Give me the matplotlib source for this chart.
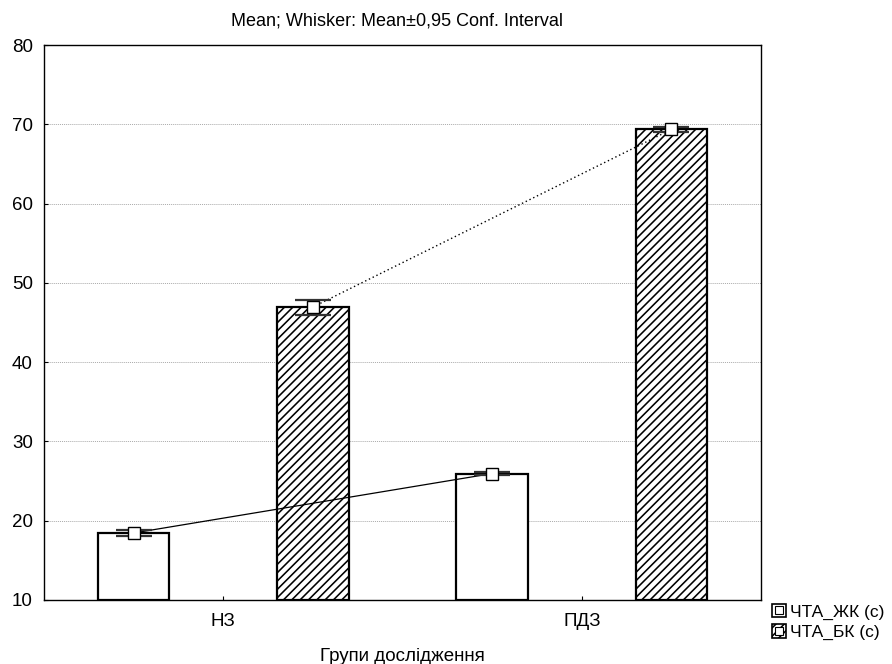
import matplotlib
matplotlib.use("Agg")
import matplotlib.pyplot as plt
import numpy as np
from matplotlib.patches import Patch
from matplotlib.lines import Line2D

plt.rcParams['font.family'] = ['Liberation Sans', 'DejaVu Sans']
plt.rcParams['hatch.linewidth'] = 1.15

groups = ["НЗ", "ПДЗ"]
series_names = ["ЧТА_ЖК (с)", "ЧТА_БК (с)"]
means_zhk = [18.45, 25.95]
ci_zhk = [0.4, 0.2]
means_bk = [46.95, 69.35]
ci_bk = [0.95, 0.3]

x = np.arange(len(groups))
width = 0.2
offset = 0.25

fig = plt.figure(figsize=(8.92, 6.64), dpi=100)
ax = fig.add_axes([44/892, 1 - 600/664, (761 - 44)/892, (600 - 45)/664])

ax.bar(x - offset, [m - 10 for m in means_zhk], width, bottom=10,
       facecolor="white", edgecolor="black", linewidth=1.6, zorder=2)
ax.bar(x + offset, [m - 10 for m in means_bk], width, bottom=10,
       facecolor="white", edgecolor="black", linewidth=1.6, hatch="////", zorder=2)

# connecting lines through the means
ax.plot(x - offset, means_zhk, color="black", linewidth=0.9, linestyle="-", zorder=3)
ax.plot(x + offset, means_bk, color="black", linewidth=1.0, linestyle=(0, (1, 2)), zorder=3)

for xs, ms, cs in [(x - offset, means_zhk, ci_zhk), (x + offset, means_bk, ci_bk)]:
    ax.errorbar(xs, ms, yerr=cs, fmt="none", ecolor="#333333", elinewidth=1.0,
                capsize=13, capthick=1.6, zorder=4)
    ax.plot(xs, ms, linestyle="none", marker="s", markersize=8,
            markerfacecolor="white", markeredgecolor="black", markeredgewidth=1.0, zorder=5)

ax.set_xlim(-0.5, 1.5)
ax.set_ylim(10, 80)
ax.set_yticks(np.arange(10, 81, 10))
ax.set_xticks(x)
ax.set_xticklabels(groups)
ax.tick_params(direction="in", length=3, labelsize=13.5, width=0.8)
ax.tick_params(axis="x", pad=9)
ax.tick_params(axis="y", pad=8)
ax.grid(axis="y", color="#aaaaaa", linestyle=(0, (1, 1)), linewidth=0.7, zorder=0)
ax.set_axisbelow(True)
for s in ax.spines.values():
    s.set_linewidth(1.0)

ax.set_title("Mean; Whisker: Mean±0,95 Conf. Interval", fontsize=13, pad=14, x=0.492)
ax.set_xlabel("Групи дослідження", fontsize=13.5, labelpad=13)

handles = [
    (Patch(facecolor="white", edgecolor="black", linewidth=1.2),
     Line2D([], [], marker="s", linestyle="none", markersize=6,
            markerfacecolor="white", markeredgecolor="black", markeredgewidth=0.8)),
    (Patch(facecolor="white", edgecolor="black", linewidth=1.2, hatch="////"),
     Line2D([], [], marker="s", linestyle="none", markersize=6,
            markerfacecolor="white", markeredgecolor="black", markeredgewidth=0.8)),
]
fig.legend(handles, series_names, loc="upper left", bbox_to_anchor=(760/892, 1 - 592/664),
           frameon=False, fontsize=12.5, handlelength=0.8, handleheight=0.8,
           handletextpad=0.25, labelspacing=0.25, borderpad=0.2)

fig.savefig("out.png", dpi=100)
